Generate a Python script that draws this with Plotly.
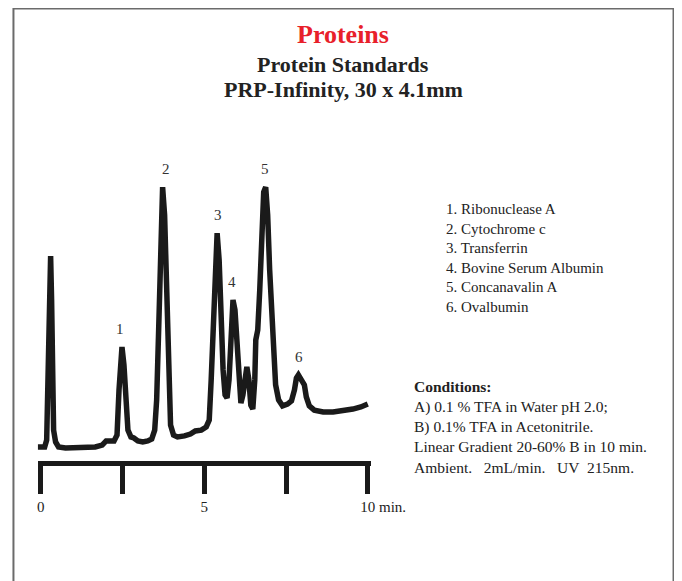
import plotly.graph_objects as go

# Chromatogram trace: retention time (min) and detector response (% of full scale)
time_min = [-0.091, 0.121, 0.182, 0.227, 0.273, 0.303, 0.333, 0.364, 0.394, 0.455,
            0.545, 0.758, 1.212, 1.667, 1.879, 2.0, 2.242, 2.333, 2.394, 2.455,
            2.485, 2.545, 2.606, 2.667, 2.758, 2.848, 2.970, 3.121, 3.273, 3.394,
            3.485, 3.545, 3.606, 3.667, 3.727, 3.788, 3.848, 3.909, 3.970, 4.061,
            4.182, 4.394, 4.576, 4.727, 4.909, 5.061, 5.152, 5.212, 5.273, 5.333,
            5.394, 5.455, 5.515, 5.576, 5.636, 5.697, 5.758, 5.818, 5.879, 5.939,
            6.0, 6.061, 6.121, 6.182, 6.242, 6.303, 6.364, 6.424, 6.485, 6.545,
            6.576, 6.636, 6.697, 6.758, 6.818, 6.879, 6.939, 7.0, 7.061, 7.121,
            7.182, 7.273, 7.394, 7.545, 7.667, 7.758, 7.818, 7.879, 7.939, 8.0,
            8.061, 8.121, 8.212, 8.364, 8.636, 8.939, 9.242, 9.545, 9.788, 10.0]
response = [0.4, 0.4, 3.0, 25.9, 56.3, 73.0, 56.3, 18.3, 6.8, 2.3,
            0.4, 0.0, 0.0, 0.4, 1.1, 2.7, 2.7, 4.9, 22.1, 37.3,
            38.4, 31.6, 18.3, 6.8, 4.2, 3.8, 2.7, 2.3, 2.7, 3.4,
            6.8, 18.3, 44.9, 75.3, 99.2, 88.6, 60.1, 25.9, 8.7, 4.9,
            4.2, 4.6, 5.3, 6.5, 6.8, 8.0, 10.6, 25.9, 48.7, 67.7,
            81.7, 71.5, 48.7, 29.7, 20.2, 19.0, 25.9, 44.9, 56.3, 52.5,
            37.3, 22.1, 17.1, 20.2, 27.8, 30.8, 25.9, 16.3, 14.8, 25.9,
            41.1, 44.9, 60.1, 82.9, 97.3, 99.2, 88.6, 67.7, 48.7, 32.7,
            24.0, 18.3, 16.0, 16.7, 17.9, 22.1, 26.6, 27.8, 26.6, 25.5,
            24.0, 19.4, 16.0, 14.4, 13.7, 13.7, 14.1, 14.8, 15.6, 16.7]

# Peak identification
peak_numbers = ["1", "2", "3", "4", "5", "6"]
peak_times = [2.485, 3.727, 5.394, 5.879, 6.879, 7.879]
peak_heights = [38.4, 99.2, 81.7, 56.3, 99.2, 27.8]
peak_names = ["Ribonuclease A", "Cytochrome c", "Transferrin",
              "Bovine Serum Albumin", "Concanavalin A", "Ovalbumin"]

# Time axis ticks
tick_values = [0, 2.5, 5, 7.5, 10]
tick_labels = ["0", "", "5", "", "10"]

conditions = ["A) 0.1 % TFA in Water pH 2.0;",
              "B) 0.1% TFA in Acetonitrile.",
              "Linear Gradient 20-60% B in 10 min.",
              "Ambient.\u00a0\u00a0 2mL/min.\u00a0\u00a0 UV\u00a0 215nm."]

# page body has an 8px margin; layout positions below are page pixels minus OFF
OFF = 8
W, H = 682 - OFF, 581 - OFF
SERIF = "Liberation Serif, Times New Roman, serif"
INK = "#1a1a1a"
TXT = "#222222"


def px(xp):
    return (xp - OFF) / W


def py(yp):
    return 1 - (yp - OFF) / H


fig = go.Figure()
fig.add_trace(go.Scatter(x=time_min, y=response, mode="lines",
                         line=dict(color=INK, width=5.5), hoverinfo="skip",
                         showlegend=False))

annotations = []
label_xshift = [-2, 3, 1, -1, -1, 1]
for n, t, h, dx in zip(peak_numbers, peak_times, peak_heights, label_xshift):
    annotations.append(dict(x=t, y=h, xref="x", yref="y", text=n, showarrow=False,
                            yanchor="middle", yshift=18, xshift=dx,
                            font=dict(family=SERIF, size=15, color="#333333")))

# min. unit next to the last tick label
annotations.append(dict(x=10, y=py(507), xref="x", yref="paper", text="min.",
                        showarrow=False, xanchor="left", yanchor="middle", xshift=9,
                        font=dict(family=SERIF, size=15, color=TXT)))

cx = px(345.5)
annotations += [
    dict(x=cx, y=py(34), xref="paper", yref="paper", text="<b>Proteins</b>",
         showarrow=False, yanchor="middle",
         font=dict(family=SERIF, size=26, color="#e8202a")),
    dict(x=cx, y=py(64.5), xref="paper", yref="paper", text="<b>Protein Standards</b>",
         showarrow=False, yanchor="middle",
         font=dict(family=SERIF, size=22, color=TXT)),
    dict(x=cx, y=py(89.5), xref="paper", yref="paper",
         text="<b>PRP-Infinity, 30 x 4.1mm</b>",
         showarrow=False, yanchor="middle",
         font=dict(family=SERIF, size=22, color=TXT)),
]

legend_text = "<br>".join(f"{n}. {name}" for n, name in zip(peak_numbers, peak_names))
annotations.append(dict(x=px(447), y=py(199), xref="paper", yref="paper",
                        text=legend_text, showarrow=False, xanchor="left", yanchor="top",
                        align="left", font=dict(family=SERIF, size=15, color=TXT)))

cond_text = "<b>Conditions:</b><br>" + "<br>".join(conditions)
annotations.append(dict(x=px(415), y=py(376), xref="paper", yref="paper",
                        text=cond_text, showarrow=False, xanchor="left", yanchor="top",
                        align="left", font=dict(family=SERIF, size=15.5, color=TXT)))

fig.update_layout(
    width=W, height=H, autosize=False,
    margin=dict(l=0, r=0, t=0, b=0),
    paper_bgcolor="white", plot_bgcolor="white",
    xaxis=dict(domain=[px(37), px(373)], range=[-0.0909, 10.0909],
               showline=True, linewidth=5, linecolor=INK,
               ticks="outside", ticklen=28, tickwidth=5, tickcolor=INK,
               tickvals=tick_values, ticktext=tick_labels,
               tickfont=dict(family=SERIF, size=15, color=TXT),
               showgrid=False, zeroline=False, fixedrange=True),
    yaxis=dict(domain=[py(460.5), py(150)], range=[-4.75, 113.3],
               visible=False, fixedrange=True),
    annotations=annotations,
    shapes=[dict(type="rect", xref="paper", yref="paper",
                 x0=px(12.5), x1=px(678.5), y0=-0.05, y1=py(8.5),
                 line=dict(color="#6b6b6b", width=2), fillcolor="rgba(0,0,0,0)")],
)

fig.write_html("out.html")
